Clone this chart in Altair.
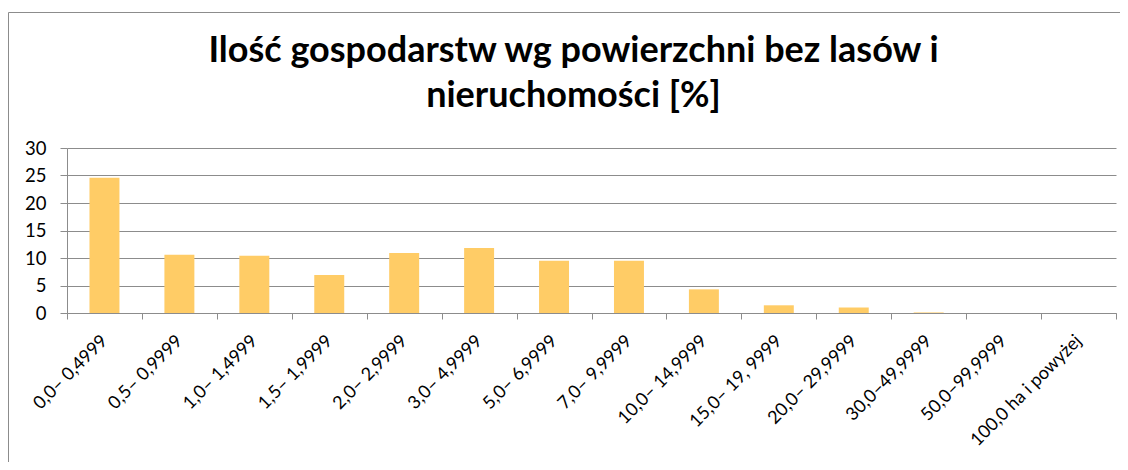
import altair as alt
import pandas as pd

categories = [
    "0,0– 0,4999", "0,5– 0,9999", "1,0– 1,4999", "1,5– 1,9999",
    "2,0– 2,9999", "3,0– 4,9999", "5,0– 6,9999", "7,0– 9,9999",
    "10,0– 14,9999", "15,0– 19, 9999", "20,0– 29,9999", "30,0–49,9999",
    "50,0–99,9999", "100,0 ha i powyżej",
]
values = [24.6, 10.6, 10.4, 6.9, 10.9, 11.8, 9.5, 9.5, 4.3, 1.4, 1.0, 0.1, 0.0, 0.0]
y_ticks = [0, 5, 10, 15, 20, 25, 30]
title_lines = ["Ilość gospodarstw wg powierzchni bez lasów i", "nieruchomości [%]"]

df = pd.DataFrame({"kat": categories, "val": values})
frame_df = pd.DataFrame({"f": [0]})

GRAY = "#8c8c8c"
FONT = "Lato"

bars = alt.Chart(df).mark_bar(color="#FFCC66", width=alt.RelativeBandSize(0.4)).encode(
    x=alt.X(
        "kat:N",
        sort=categories,
        scale=alt.Scale(paddingInner=0, paddingOuter=0),
        axis=alt.Axis(
            title=None,
            labelAngle=-45,
            labelAlign="right",
            labelBaseline="middle",
            labelPadding=19,
            labelOverlap=False,
            tickBand="extent",
            tickSize=6,
            tickColor=GRAY,
            domainColor=GRAY,
            grid=False,
            labelFont=FONT,
            labelFontSize=18,
            labelColor="#000000",
        ),
    ),
    y=alt.Y(
        "val:Q",
        scale=alt.Scale(domain=[0, 30], nice=False),
        axis=alt.Axis(
            title=None,
            values=y_ticks,
            tickSize=7,
            labelPadding=14,
            tickColor=GRAY,
            domainColor=GRAY,
            grid=True,
            gridColor=GRAY,
            gridWidth=1,
            labelFont=FONT,
            labelFontSize=18.5,
            labelColor="#000000",
        ),
    ),
)

frame = alt.Chart(frame_df).mark_rect(fill="transparent", stroke=GRAY, strokeWidth=1).encode(
    x=alt.value(-58.5), x2=alt.value(1200), y=alt.value(-135.5), y2=alt.value(400)
)

chart = alt.layer(frame, bars).properties(
    width=1049,
    height=165,
    autosize=alt.AutoSizeParams(type="none"),
    padding={"left": 59, "top": 140, "right": 4, "bottom": 149},
    title=alt.TitleParams(
        text=title_lines,
        font=FONT,
        fontSize=36,
        fontWeight="bold",
        color="#000000",
        lineHeight=45,
        baseline="alphabetic",
        frame="group",
        anchor="middle",
        offset=-131,
        dx=-18,
    ),
).configure_view(stroke="transparent")

chart.save("out.html", embed_options={"renderer": "svg", "actions": False})
